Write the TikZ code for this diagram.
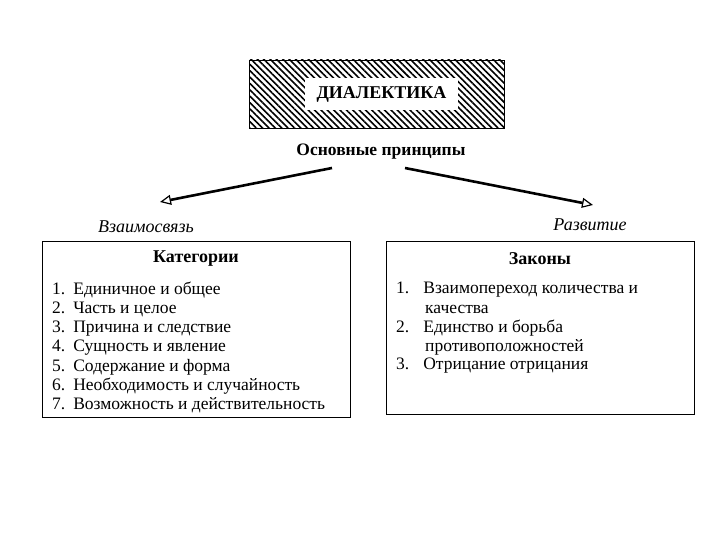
\documentclass[tikz,border=0pt]{standalone}
\usepackage{fontspec}
\setmainfont{Liberation Serif}
\usetikzlibrary{patterns.meta,arrows.meta}
\begin{document}
\begin{tikzpicture}[x=1pt,y=-1pt,
  boxs/.style={draw,line width=0.9pt,inner sep=0pt},
  arr/.style={line width=2.6pt,-{Triangle[open,length=11pt,width=10pt,line width=1.2pt]}},
  item/.style={anchor=west,font=\fontsize{17.5}{20}\selectfont,inner sep=0pt}]
\useasboundingbox (0,0) rectangle (720,540);
\fill[white] (0,0) rectangle (720,540);
\node[boxs,minimum width=255pt,minimum height=68pt,pattern={Lines[angle=-45,distance=4.5pt,line width=1.6pt]}] (top) at (376.5,94) {};
\node[fill=white,minimum width=153pt,minimum height=32pt,inner sep=0pt,font=\bfseries\fontsize{18}{20}\selectfont] (title) at (381.5,94) {ДИАЛЕКТИКА};
\node[font=\bfseries\fontsize{17.5}{20}\selectfont] (osn) at (381,152) {Основные принципы};
\coordinate (la) at (332,168); \coordinate (lb) at (160,202);
\coordinate (ra) at (405,168); \coordinate (rb) at (593,205);
\draw[arr] (la) -- (lb);
\draw[arr] (ra) -- (rb);
\node[font=\itshape\fontsize{18}{20}\selectfont] (vz) at (146,227) {Взаимосвязь};
\node[font=\itshape\fontsize{18}{20}\selectfont] (rz) at (590,225) {Развитие};
\node[boxs,minimum width=308pt,minimum height=176pt] (L) at (196,329) {};
\node[boxs,minimum width=308pt,minimum height=173pt] (R) at (540,327.5) {};
\node[font=\bfseries\fontsize{18}{20}\selectfont] (kat) at (196,259) {Категории};
\node[font=\bfseries\fontsize{18}{20}\selectfont] (zak) at (540,259) {Законы};
\foreach \t [count=\i] in {Единичное и общее,Часть и целое,Причина и следствие,Сущность и явление,Содержание и форма,Необходимость и случайность,Возможность и действительность}
  \node[item] (k\i) at (52,{271+19.2*\i}) {\i.\hspace{8pt}\t};
\node[item] (z1) at (396,290) {1.\hspace{14pt}Взаимопереход количества и};
\node[item] (z1b) at (425,309) {качества};
\node[item] (z2) at (396,328) {2.\hspace{14pt}Единство и борьба};
\node[item] (z2b) at (425,347) {противоположностей};
\node[item] (z3) at (396,366) {3.\hspace{14pt}Отрицание отрицания};
\end{tikzpicture}
\end{document}
